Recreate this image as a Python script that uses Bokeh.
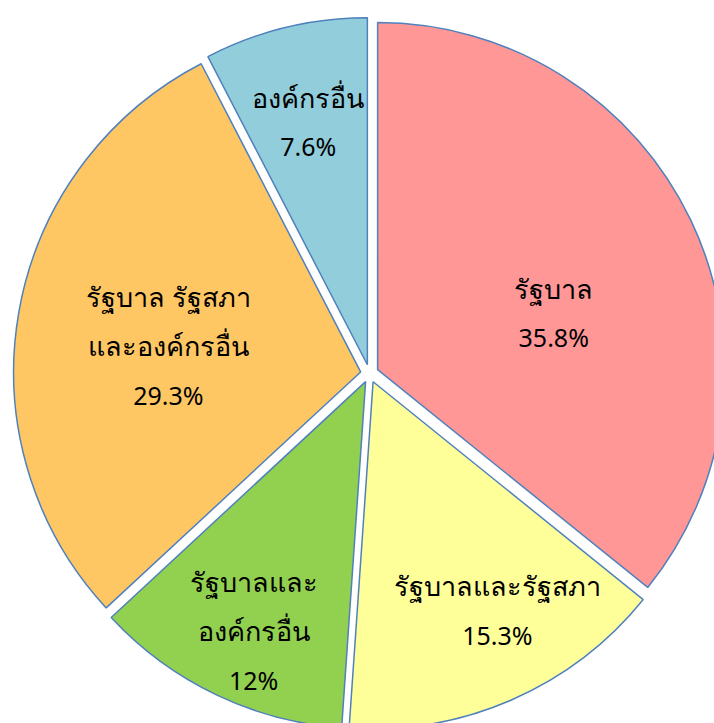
import math
from bokeh.plotting import figure
from bokeh.models import Range1d, ColumnDataSource
from bokeh.core.properties import value
from bokeh.embed import file_html
from bokeh.resources import INLINE

# ---- data ----
categories = ["รัฐบาล", "รัฐบาลและรัฐสภา", "รัฐบาลและองค์กรอื่น",
              "รัฐบาล รัฐสภา และองค์กรอื่น", "องค์กรอื่น"]
label_lines = [["รัฐบาล"], ["รัฐบาลและรัฐสภา"], ["รัฐบาลและ", "องค์กรอื่น"],
               ["รัฐบาล รัฐสภา", "และองค์กรอื่น"], ["องค์กรอื่น"]]
percents = [35.8, 15.3, 12.0, 29.3, 7.6]
pct_labels = ["35.8%", "15.3%", "12%", "29.3%", "7.6%"]

# ---- style / layout ----
colors = ["#FF9797", "#FFFF99", "#92D050", "#FFC764", "#92CDDC"]
W, H = 714, 723
CX, CY = 369, 350          # pie centre (data units = px)
R = 347
EXPLODE = 9
label_r = [194, 269, 282, 203, 259]
label_nudge = [-7.3, 4.8, 1.3, 2.0, 0.0]   # degrees
LINE_SP = 49

total = sum(percents)
xs, ys, starts, ends = [], [], [], []
tx, ty, tt = [], [], []      # Thai lines
nx, ny, nt = [], [], []      # percentage lines
cum = 0.0
for i, v in enumerate(percents):
    f0 = cum / total
    f1 = (cum + v) / total
    cum += v
    a_start = math.pi / 2 - 2 * math.pi * f1
    a_end = math.pi / 2 - 2 * math.pi * f0
    mid = (a_start + a_end) / 2
    xs.append(CX + EXPLODE * math.cos(mid))
    ys.append(CY + EXPLODE * math.sin(mid))
    starts.append(a_start)
    ends.append(a_end)
    la = mid + math.radians(label_nudge[i])
    cx_l = CX + label_r[i] * math.cos(la)
    cy_l = CY + label_r[i] * math.sin(la)
    lines = label_lines[i] + [pct_labels[i]]
    n = len(lines)
    for k, s in enumerate(lines):
        yk = cy_l + (n - 1) / 2 * LINE_SP - k * LINE_SP
        if k < n - 1:
            tx.append(cx_l); ty.append(yk); tt.append(s)
        else:
            nx.append(cx_l); ny.append(yk); nt.append(s)

src = ColumnDataSource(dict(x=xs, y=ys, start=starts, end=ends, color=colors))
tsrc = ColumnDataSource(dict(x=tx, y=ty, text=tt))
nsrc = ColumnDataSource(dict(x=nx, y=ny, text=nt))

p = figure(width=W, height=H, output_backend="svg", toolbar_location=None,
           x_range=Range1d(0, W), y_range=Range1d(0, H),
           min_border=0, outline_line_color=None)
p.axis.visible = False
p.grid.visible = False
p.background_fill_color = "white"

p.wedge(x="x", y="y", radius=R, start_angle="start", end_angle="end",
        direction="anticlock", fill_color="color", line_color="#4F81BD",
        line_width=1.5, source=src)

p.text(x="x", y="y", text="text", source=tsrc, text_align="center",
       text_baseline="middle", text_font=value("Noto Sans"),
       text_font_size="27px", text_color="black")
p.text(x="x", y="y", text="text", source=nsrc, text_align="center",
       text_baseline="middle", text_font=value("Noto Sans"),
       text_font_size="25px", text_color="black")

open("out.html", "w").write(file_html(p, INLINE))
